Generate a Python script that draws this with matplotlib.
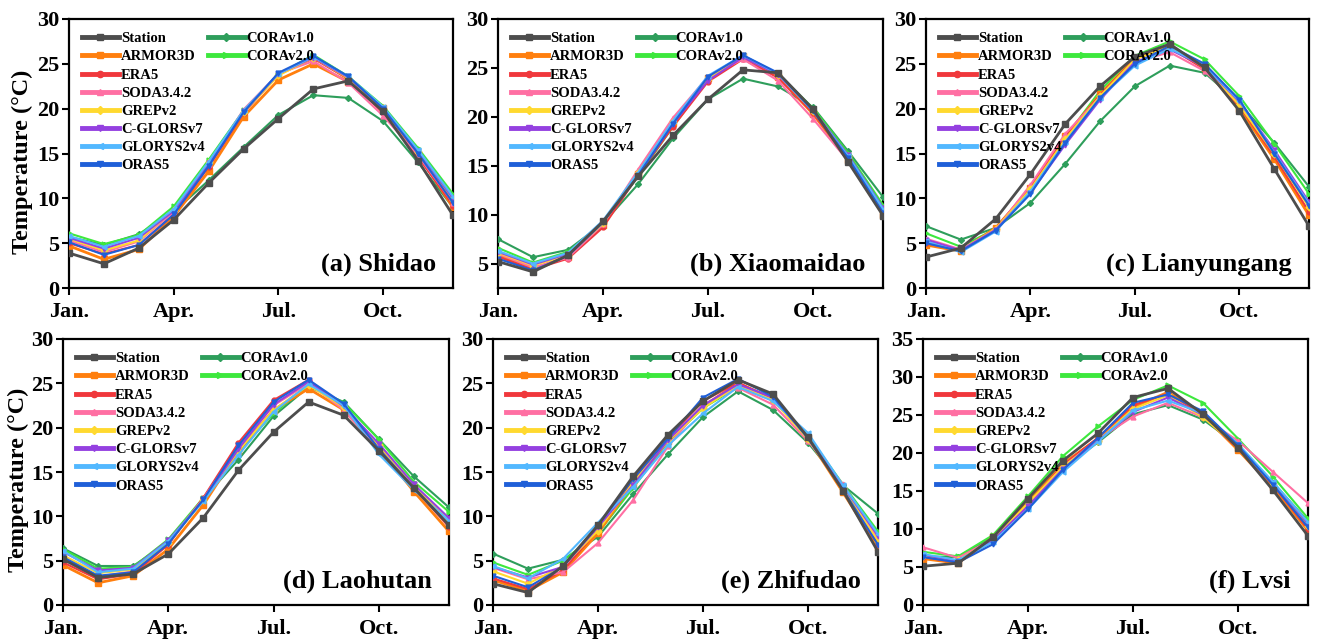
import matplotlib
matplotlib.use("Agg")
import matplotlib.pyplot as plt
from matplotlib.lines import Line2D
import numpy as np

plt.rcParams['font.family'] = ['Liberation Serif', 'DejaVu Serif']
plt.rcParams['font.weight'] = 'bold'

months = np.arange(12)
month_ticks = [0, 3, 6, 9]
month_labels = ["Jan.", "Apr.", "Jul.", "Oct."]

series_names = ["Station", "ARMOR3D", "ERA5", "SODA3.4.2", "GREPv2",
                "C-GLORSv7", "GLORYS2v4", "ORAS5", "CORAv1.0", "CORAv2.0"]
colors = ["#4d4d4d", "#ff7f0e", "#f0383c", "#ff6fa3", "#ffd92f",
          "#9440e0", "#52b8ff", "#1f5fd8", "#2e9e5b", "#3de83d"]
markers = ["s", "s", "o", "^", "D", "v", "<", "v", "D", ">"]

# ---- (a) Shidao ----
shidao_station = [3.9, 2.7, 4.45, 7.6, 11.7, 15.5, 18.9, 22.2, 23.1, 19.7, 14.2, 8.1]
shidao_armor = [4.7, 3.2, 4.3, 8.0, 13.0, 19.1, 23.2, 25.0, 23.0, 20.1, 14.9, 9.0]
shidao_era5 = [5.0, 3.8, 4.8, 8.2, 13.5, 19.5, 23.8, 25.6, 23.3, 19.5, 14.6, 9.2]
shidao_soda = [5.3, 4.0, 5.2, 8.5, 13.8, 19.9, 23.9, 25.3, 22.9, 19.2, 14.8, 9.5]
shidao_grep = [5.5, 4.2, 5.3, 8.7, 14.0, 19.6, 23.7, 25.7, 23.4, 20.0, 15.2, 9.8]
shidao_cglors = [5.6, 4.4, 5.6, 8.6, 13.9, 19.7, 23.9, 25.7, 23.5, 20.1, 15.3, 10.0]
shidao_glorys = [5.8, 4.6, 5.8, 8.8, 14.1, 19.8, 23.9, 25.8, 23.6, 20.2, 15.4, 10.2]
shidao_oras5 = [5.1, 3.7, 4.8, 8.2, 13.6, 19.6, 24.0, 25.9, 23.6, 20.0, 15.0, 9.5]
shidao_cora1 = [5.7, 4.8, 6.0, 8.5, 12.0, 15.7, 19.3, 21.5, 21.2, 18.6, 14.0, 9.0]
shidao_cora2 = [6.1, 4.9, 5.9, 9.1, 14.3, 19.8, 23.8, 26.0, 23.6, 20.3, 15.6, 10.5]

# ---- (b) Xiaomaidao ----
xmd_station = [5.2, 4.15, 5.85, 9.3, 13.9, 18.1, 21.8, 24.8, 24.5, 20.8, 15.4, 9.9]
xmd_armor = [5.9, 4.5, 5.7, 8.9, 14.2, 19.4, 24.0, 26.2, 24.1, 20.3, 15.6, 10.0]
xmd_era5 = [5.7, 4.4, 5.5, 8.7, 14.0, 19.0, 23.6, 25.9, 24.0, 20.4, 15.7, 10.1]
xmd_soda = [6.0, 4.6, 5.6, 9.0, 14.6, 19.9, 24.1, 25.9, 23.7, 19.8, 15.5, 10.3]
xmd_grep = [6.1, 4.8, 5.9, 9.1, 14.3, 19.5, 23.9, 26.2, 24.3, 20.6, 16.0, 10.5]
xmd_cglors = [6.2, 4.9, 6.0, 9.2, 14.1, 19.3, 23.7, 26.1, 24.3, 20.7, 16.1, 10.7]
xmd_glorys = [6.3, 5.0, 6.1, 9.4, 14.3, 19.6, 24.2, 26.3, 24.4, 20.6, 16.0, 10.6]
xmd_oras5 = [5.5, 4.3, 5.8, 9.2, 14.0, 19.3, 24.1, 26.3, 24.5, 20.6, 15.8, 10.2]
xmd_cora1 = [7.5, 5.65, 6.4, 9.1, 13.1, 17.8, 21.8, 23.9, 23.1, 21.0, 16.5, 11.8]
xmd_cora2 = [6.6, 5.1, 6.2, 9.1, 13.9, 19.0, 23.8, 26.2, 24.4, 20.9, 16.3, 11.0]

# ---- (c) Lianyungang ----
lyg_station = [3.45, 4.45, 7.7, 12.7, 18.3, 22.5, 25.8, 27.2, 24.6, 19.75, 13.3, 6.9]
lyg_armor = [4.8, 4.1, 6.7, 11.1, 16.9, 21.6, 25.6, 27.0, 24.5, 20.0, 14.4, 8.1]
lyg_era5 = [5.0, 4.2, 6.6, 11.3, 17.0, 21.5, 25.6, 26.8, 24.4, 20.3, 14.7, 8.5]
lyg_soda = [5.5, 4.3, 6.5, 11.5, 17.2, 21.3, 25.2, 26.3, 24.2, 20.5, 15.2, 9.5]
lyg_grep = [5.2, 4.2, 6.6, 11.0, 16.6, 21.4, 25.5, 26.9, 24.6, 20.4, 15.0, 9.0]
lyg_cglors = [5.4, 4.2, 6.5, 10.6, 16.0, 21.0, 25.2, 26.6, 24.7, 20.8, 15.4, 9.6]
lyg_glorys = [5.2, 4.0, 6.3, 10.8, 16.3, 21.2, 24.8, 26.7, 24.8, 20.9, 15.1, 9.4]
lyg_oras5 = [5.0, 4.1, 6.4, 10.5, 16.2, 21.2, 25.0, 27.0, 25.0, 21.0, 15.0, 9.2]
lyg_cora1 = [6.9, 5.4, 6.7, 9.5, 13.85, 18.6, 22.5, 24.8, 24.0, 20.6, 16.2, 11.3]
lyg_cora2 = [6.1, 4.6, 6.6, 11.0, 16.8, 22.0, 25.9, 27.5, 25.5, 21.4, 16.1, 10.5]

# ---- (d) Laohutan ----
lht_station = [5.15, 3.1, 3.5, 5.75, 9.85, 15.2, 19.5, 22.9, 21.4, 17.4, 13.2, 9.0]
lht_armor = [4.5, 2.5, 3.3, 6.3, 11.3, 17.4, 22.0, 24.4, 22.0, 17.7, 12.8, 8.3]
lht_era5 = [4.8, 2.9, 3.5, 6.8, 12.1, 18.3, 23.1, 25.4, 22.3, 17.8, 13.2, 8.8]
lht_soda = [5.3, 3.2, 3.8, 7.1, 12.0, 17.8, 22.5, 25.0, 22.0, 17.5, 13.3, 9.2]
lht_grep = [5.6, 3.6, 4.0, 7.0, 11.8, 17.4, 22.0, 24.8, 22.3, 18.0, 13.4, 9.5]
lht_cglors = [6.0, 3.9, 4.2, 7.3, 11.8, 17.6, 22.6, 25.2, 22.4, 18.2, 13.6, 9.8]
lht_glorys = [6.1, 3.7, 4.1, 7.2, 11.7, 16.9, 21.8, 24.9, 22.5, 17.0, 13.0, 9.5]
lht_oras5 = [5.4, 3.3, 3.7, 6.9, 11.9, 18.0, 22.9, 25.4, 22.7, 17.6, 13.2, 9.0]
lht_cora1 = [6.4, 4.4, 4.4, 7.1, 12.0, 16.4, 21.3, 24.6, 22.9, 18.7, 14.5, 11.0]
lht_cora2 = [6.3, 4.1, 4.3, 7.4, 12.1, 17.3, 21.6, 24.8, 22.8, 18.7, 13.9, 10.5]

# ---- (e) Zhifudao ----
zfd_station = [2.4, 1.4, 4.4, 9.0, 14.5, 19.2, 23.0, 25.4, 23.8, 18.9, 12.9, 6.0]
zfd_armor = [2.8, 1.6, 3.7, 8.1, 13.7, 18.5, 22.4, 25.0, 23.3, 18.8, 12.7, 6.5]
zfd_era5 = [3.0, 1.8, 3.9, 8.5, 14.0, 18.8, 23.0, 25.1, 23.2, 18.9, 13.0, 6.8]
zfd_soda = [4.2, 2.9, 3.7, 7.0, 11.8, 17.9, 22.6, 24.5, 22.6, 18.5, 13.6, 7.5]
zfd_grep = [3.8, 2.4, 4.4, 8.4, 13.8, 18.5, 22.2, 24.8, 23.1, 18.7, 13.2, 7.2]
zfd_cglors = [4.3, 3.1, 4.3, 8.8, 13.5, 18.6, 22.5, 24.9, 23.4, 18.9, 13.4, 7.8]
zfd_glorys = [4.4, 3.0, 5.2, 9.3, 13.3, 18.0, 21.6, 24.6, 23.0, 19.4, 13.5, 8.0]
zfd_oras5 = [3.3, 2.0, 4.3, 9.0, 14.2, 18.8, 23.4, 25.5, 23.5, 18.8, 13.0, 6.8]
zfd_cora1 = [5.8, 4.1, 5.1, 7.7, 12.5, 17.0, 21.2, 24.1, 22.0, 18.3, 13.5, 10.3]
zfd_cora2 = [4.8, 3.4, 5.0, 8.1, 13.2, 18.4, 22.2, 24.6, 23.1, 19.1, 13.6, 8.3]

# ---- (f) Lvsi ----
lvs_station = [5.1, 5.5, 8.9, 14.0, 19.0, 22.6, 27.3, 28.5, 25.1, 20.7, 15.1, 9.1]
lvs_armor = [6.1, 5.5, 8.9, 13.5, 18.6, 21.9, 26.0, 28.0, 25.0, 20.4, 15.5, 9.8]
lvs_era5 = [6.3, 5.6, 8.8, 13.3, 18.4, 22.0, 26.3, 27.8, 24.9, 20.6, 15.8, 10.0]
lvs_soda = [7.6, 6.2, 8.7, 13.2, 18.2, 21.8, 24.8, 26.6, 24.7, 21.6, 17.5, 13.4]
lvs_grep = [6.5, 5.9, 8.6, 13.4, 18.2, 21.6, 25.8, 27.6, 24.7, 20.8, 15.9, 10.4]
lvs_cglors = [6.6, 5.8, 8.5, 13.0, 17.9, 21.6, 25.4, 27.3, 25.0, 21.0, 16.1, 10.7]
lvs_glorys = [6.7, 5.9, 8.3, 12.6, 17.5, 21.5, 25.6, 26.9, 25.2, 21.2, 16.2, 10.9]
lvs_oras5 = [6.3, 5.6, 8.0, 12.6, 17.8, 22.0, 26.6, 27.7, 25.5, 21.0, 15.8, 10.2]
lvs_cora1 = [6.4, 6.3, 9.0, 13.7, 18.0, 21.4, 25.1, 26.3, 24.4, 21.0, 16.1, 11.0]
lvs_cora2 = [7.0, 6.4, 9.2, 14.3, 19.6, 23.5, 27.0, 28.9, 26.6, 21.9, 16.9, 11.4]

panel_titles = ["(a) Shidao", "(b) Xiaomaidao", "(c) Lianyungang",
                "(d) Laohutan", "(e) Zhifudao", "(f) Lvsi"]
panel_data = [
    [shidao_station, shidao_armor, shidao_era5, shidao_soda, shidao_grep,
     shidao_cglors, shidao_glorys, shidao_oras5, shidao_cora1, shidao_cora2],
    [xmd_station, xmd_armor, xmd_era5, xmd_soda, xmd_grep,
     xmd_cglors, xmd_glorys, xmd_oras5, xmd_cora1, xmd_cora2],
    [lyg_station, lyg_armor, lyg_era5, lyg_soda, lyg_grep,
     lyg_cglors, lyg_glorys, lyg_oras5, lyg_cora1, lyg_cora2],
    [lht_station, lht_armor, lht_era5, lht_soda, lht_grep,
     lht_cglors, lht_glorys, lht_oras5, lht_cora1, lht_cora2],
    [zfd_station, zfd_armor, zfd_era5, zfd_soda, zfd_grep,
     zfd_cglors, zfd_glorys, zfd_oras5, zfd_cora1, zfd_cora2],
    [lvs_station, lvs_armor, lvs_era5, lvs_soda, lvs_grep,
     lvs_cglors, lvs_glorys, lvs_oras5, lvs_cora1, lvs_cora2],
]
y_limits = [(0, 30), (2.5, 30), (0, 30), (0, 30), (0, 30), (0, 35)]
y_ticks = [np.arange(0, 31, 5), np.arange(5, 31, 5), np.arange(0, 31, 5),
           np.arange(0, 31, 5), np.arange(0, 31, 5), np.arange(0, 36, 5)]

W, H = 1317, 641
fig = plt.figure(figsize=(W / 100, H / 100), dpi=100)

# pixel boxes: left, right, top, bottom
boxes = [(69, 453, 19, 288), (498, 883, 19, 288), (926, 1309, 19, 288),
         (63, 449, 339, 605), (493, 878, 339, 605), (923, 1308, 339, 605)]
ylabel_x_px = {0: 33, 3: 29}

# plotting order: draw station on top
draw_order = [8, 9, 1, 2, 3, 4, 5, 6, 7, 0]

for p in range(6):
    l, r, t, b = boxes[p]
    ax = fig.add_axes([l / W, 1 - b / H, (r - l) / W, (b - t) / H])
    data = panel_data[p]
    for i in draw_order:
        lw = 2.0 if i in (0, 1) else 1.5
        ms = 4 if markers[i] == "s" else 3.5
        if i == 8:
            ms = 3
        ax.plot(months, data[i], color=colors[i], marker=markers[i], lw=lw,
                ms=ms, zorder=3 + (1 if i == 0 else 0))
    ax.set_xlim(0, 11)
    ax.set_ylim(*y_limits[p])
    ax.set_yticks(y_ticks[p])
    ax.set_xticks(month_ticks)
    ax.set_xticklabels(month_labels)
    ax.tick_params(axis='both', direction='out', length=5, width=1.5,
                   labelsize=16, pad=2)
    ax.tick_params(axis='x', pad=5)
    for lab in ax.get_xticklabels() + ax.get_yticklabels():
        lab.set_fontweight('bold')
    for s in ax.spines.values():
        s.set_linewidth(1.6)
    if p in (0, 3):
        ax.set_ylabel("Temperature (\u00b0C)", fontsize=17.5, fontweight='bold')
        ax.yaxis.set_label_coords((ylabel_x_px[p] - l) / (r - l), 0.47)
    ax.text(0.955, 0.045, panel_titles[p], transform=ax.transAxes,
            ha='right', va='bottom', fontsize=19, fontweight='bold')

    handles = []
    for i in range(10):
        handles.append(Line2D([], [], color=colors[i], marker=markers[i],
                              lw=3.5, ms=5 if markers[i] == "s" else 4.5,
                              label=series_names[i]))
    blank = Line2D([], [], alpha=0, label=" ")
    leg_handles = handles[:8] + handles[8:] + [blank] * 6
    leg_labels = series_names[:8] + series_names[8:] + [""] * 6
    ax.legend(leg_handles, leg_labels, ncol=2, loc='upper left',
              bbox_to_anchor=(0.0, 1.0), frameon=False,
              prop={'weight': 'bold', 'size': 10.5},
              handlelength=2.5, handletextpad=0.15, columnspacing=0.25,
              labelspacing=0.34, borderaxespad=0.5)

fig.savefig("out.png", dpi=100)
